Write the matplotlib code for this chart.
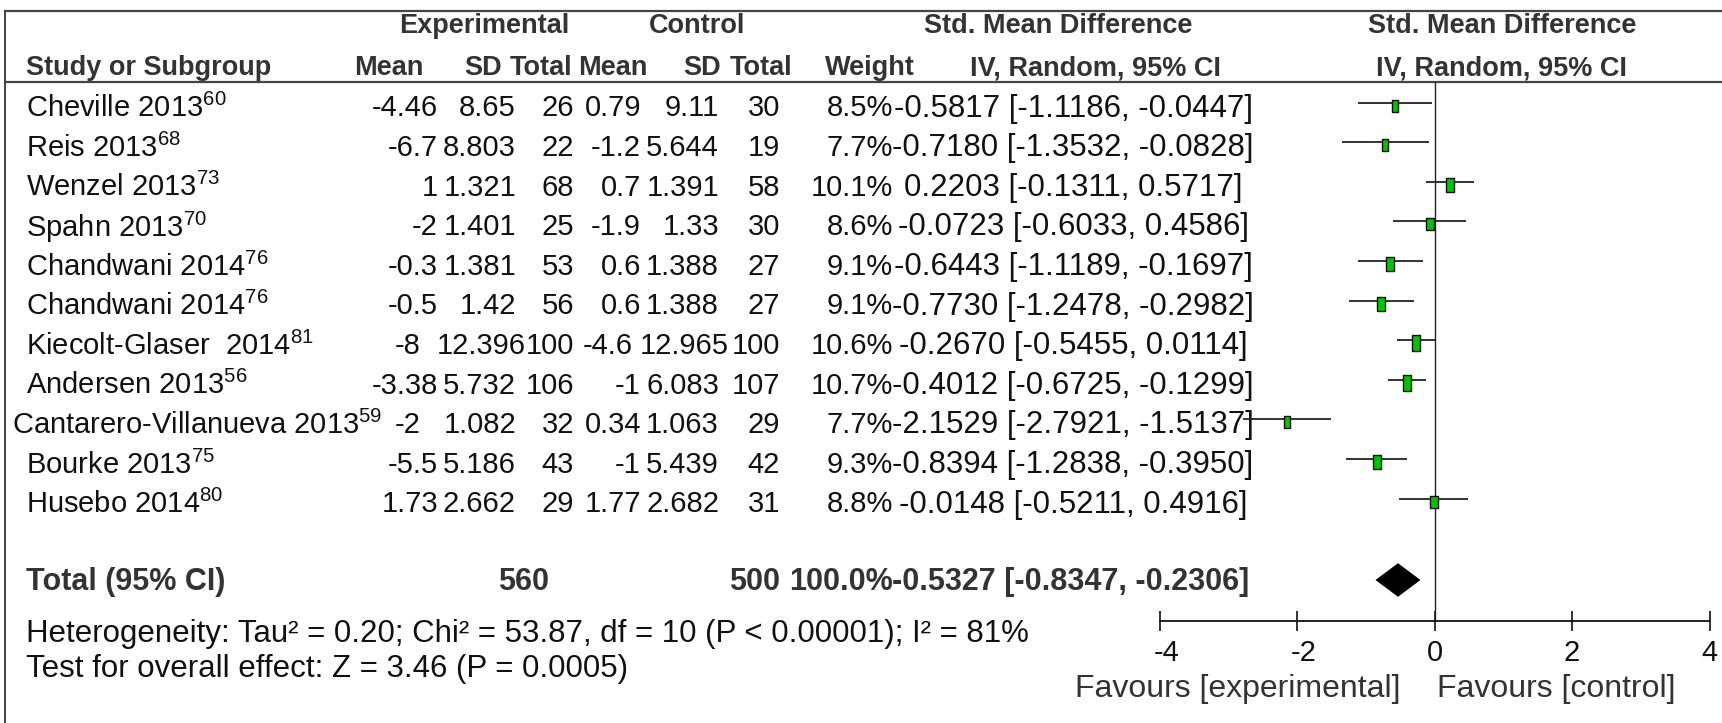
import matplotlib
matplotlib.use("Agg")
import matplotlib.pyplot as plt
from matplotlib.patches import Polygon
from matplotlib.transforms import ScaledTranslation

plt.rcParams['font.family'] = ['Liberation Sans', 'DejaVu Sans']
plt.rcParams['mathtext.fontset'] = 'custom'
plt.rcParams['mathtext.rm'] = 'Liberation Sans'
plt.rcParams['mathtext.it'] = 'Liberation Sans'

# study table
studies = ['Cheville 2013', 'Reis 2013', 'Wenzel 2013', 'Spahn 2013', 'Chandwani 2014',
           'Chandwani 2014', 'Kiecolt-Glaser  2014', 'Andersen 2013',
           'Cantarero-Villanueva 2013', 'Bourke 2013', 'Husebo 2014']
refs = ['60', '68', '73', '70', '76', '76', '81', '56', '59', '75', '80']
exp_mean = ['-4.46', '-6.7', '1', '-2', '-0.3', '-0.5', '-8', '-3.38', '-2', '-5.5', '1.73']
exp_sd = ['8.65', '8.803', '1.321', '1.401', '1.381', '1.42', '12.396', '5.732', '1.082', '5.186', '2.662']
exp_n = [26, 22, 68, 25, 53, 56, 100, 106, 32, 43, 29]
ctl_mean = ['0.79', '-1.2', '0.7', '-1.9', '0.6', '0.6', '-4.6', '-1', '0.34', '-1', '1.77']
ctl_sd = ['9.11', '5.644', '1.391', '1.33', '1.388', '1.388', '12.965', '6.083', '1.063', '5.439', '2.682']
ctl_n = [30, 19, 58, 30, 27, 27, 100, 107, 29, 42, 31]
weight = [8.5, 7.7, 10.1, 8.6, 9.1, 9.1, 10.6, 10.7, 7.7, 9.3, 8.8]
smd = [-0.5817, -0.7180, 0.2203, -0.0723, -0.6443, -0.7730, -0.2670, -0.4012, -2.1529, -0.8394, -0.0148]
ci_lo = [-1.1186, -1.3532, -0.1311, -0.6033, -1.1189, -1.2478, -0.5455, -0.6725, -2.7921, -1.2838, -0.5211]
ci_hi = [-0.0447, -0.0828, 0.5717, 0.4586, -0.1697, -0.2982, 0.0114, -0.1299, -1.5137, -0.3950, 0.4916]

# pooled estimate
total_exp = 560
total_ctl = 500
total_weight = 100.0
total_smd = -0.5327
total_lo = -0.8347
total_hi = -0.2306

heterogeneity = 'Heterogeneity: Tau² = 0.20; Chi² = 53.87, df = 10 (P < 0.00001); I² = 81%'
overall = 'Test for overall effect: Z = 3.46 (P = 0.0005)'
ticks = [-4, -2, 0, 2, 4]

W, H = 1722, 723
fig = plt.figure(figsize=(W / 100, H / 100), dpi=100)
base = fig.add_axes([0, 0, 1, 1])
base.set_xlim(0, W)
base.set_ylim(H, 0)
base.axis('off')

fs = 21
txt = '#111111'
hdr = '#333333'
line_c = '#444444'

# frame
base.plot([5, W], [11, 11], color=line_c, lw=1.6)
base.plot([5, W], [82, 82], color=line_c, lw=1.6)
base.plot([5, 5], [11, H], color=line_c, lw=1.4)

# header
hkw = dict(fontsize=19.5, fontweight='bold', color=hdr, va='center')
base.text(484, 26, 'Experimental', ha='center', **hkw)
base.text(697, 26, 'Control', ha='center', **hkw)
base.text(1058, 26, 'Std. Mean Difference', ha='center', **hkw)
base.text(1502, 26, 'Std. Mean Difference', ha='center', **hkw)
base.text(26, 68, 'Study or Subgroup', ha='left', **hkw)
base.text(423, 68, 'Mean', ha='right', **hkw)
base.text(502, 68, 'SD', ha='right', **hkw)
base.text(572, 68, 'Total', ha='right', **hkw)
base.text(648, 68, 'Mean', ha='right', **hkw)
base.text(721, 68, 'SD', ha='right', **hkw)
base.text(792, 68, 'Total', ha='right', **hkw)
base.text(870, 68, 'Weight', ha='center', **hkw)
base.text(1096, 68, 'IV, Random, 95% CI', ha='center', **hkw)
base.text(1502, 68, 'IV, Random, 95% CI', ha='center', **hkw)

# study rows
y0, dy = 108.5, 39.6
row_y = [y0 + i * dy for i in range(len(studies))]
rkw = dict(fontsize=fs, color=txt, va='center')
for i, y in enumerate(row_y):
    long_name = len(studies[i]) > 22
    wide_sd = len(exp_sd[i]) > 5
    base.text(12 if long_name else 26, y, studies[i] + '$^{' + refs[i] + '}$', ha='left', **rkw)
    # overflowing cells push their neighbours aside
    base.text(438 - (17 if long_name or wide_sd else 0), y, exp_mean[i], ha='right', **rkw)
    base.text(516 + (10 if wide_sd else 0), y, exp_sd[i], ha='right', **rkw)
    base.text(574, y, str(exp_n[i]), ha='right', **rkw)
    base.text(641 - (8 if wide_sd else 0), y, ctl_mean[i], ha='right', **rkw)
    base.text(719 + (10 if wide_sd else 0), y, ctl_sd[i], ha='right', **rkw)
    base.text(780, y, str(ctl_n[i]), ha='right', **rkw)
    base.text(893, y, f'{weight[i]:.1f}%', ha='right', **rkw)
    base.text(1073, y, f'{smd[i]:.4f} [{ci_lo[i]:.4f}, {ci_hi[i]:.4f}]', ha='center',
              fontsize=22.5, color=txt, va='center')

# total row
y_tot = 582
tkw = dict(fontsize=22, fontweight='bold', color=hdr, va='center')
base.text(26, y_tot, 'Total (95% CI)', ha='left', **tkw)
base.text(549, y_tot, str(total_exp), ha='right', **tkw)
base.text(780, y_tot, str(total_ctl), ha='right', **tkw)
base.text(893, y_tot, f'{total_weight:.1f}%', ha='right', **tkw)
base.text(1071, y_tot, f'{total_smd:.4f} [{total_lo:.4f}, {total_hi:.4f}]', ha='center', **tkw)

base.text(26, 634, heterogeneity, ha='left', fontsize=22.5, color=txt, va='center')
base.text(26, 669, overall, ha='left', fontsize=22.5, color=txt, va='center')

# forest panel: x maps -4..4 onto the plot strip, y kept in pixel rows
x_lo, x_hi = 1159.6, 1709.6
ax = fig.add_axes([x_lo / W, 0, (x_hi - x_lo) / W, 1])
ax.set_xlim(-4, 4)
ax.set_ylim(H, 0)
ax.patch.set_alpha(0)
for s in ['left', 'right', 'top']:
    ax.spines[s].set_visible(False)
ax.spines['bottom'].set_position(('data', 620.5))
ax.spines['bottom'].set_linewidth(1.3)
ax.spines['bottom'].set_color('#111111')
ax.set_yticks([])
ax.set_xticks(ticks)
ax.set_xticklabels([str(t) for t in ticks])
ax.tick_params(axis='x', direction='inout', length=14, width=1.2, pad=6,
               labelsize=fs, labelcolor=txt, color='#111111')
# negative labels sit with the digit centred, the minus hanging left of it
for lbl in ax.get_xticklabels():
    if lbl.get_text().startswith('-'):
        lbl.set_transform(lbl.get_transform() + ScaledTranslation(5 / 72, 0, fig.dpi_scale_trans))

ax.vlines(0, 82, 620.5, color='#222222', lw=1.0)

rect = [(-0.28, -0.5), (0.28, -0.5), (0.28, 0.5), (-0.28, 0.5), (-0.28, -0.5)]
for i, y in enumerate(row_y):
    ax.hlines(y - 6, ci_lo[i], ci_hi[i], color='#222222', lw=1.3)
    ax.plot(smd[i], y - 3, marker=rect, ms=weight[i] * 1.05, mfc='#00c400',
            mec='#111111', mew=1.0, ls='none')

diamond = Polygon([(total_lo, y_tot - 2), (total_smd, y_tot - 17.5), (total_hi, y_tot - 2),
                   (total_smd, y_tot + 13.5)], closed=True, fc='black', ec='black', lw=1.5)
ax.add_patch(diamond)

base.text(1238, 689, 'Favours [experimental]', ha='center', va='center', fontsize=23, color=hdr)
base.text(1556, 689, 'Favours [control]', ha='center', va='center', fontsize=23, color=hdr)

fig.savefig('out.png', dpi=100)
